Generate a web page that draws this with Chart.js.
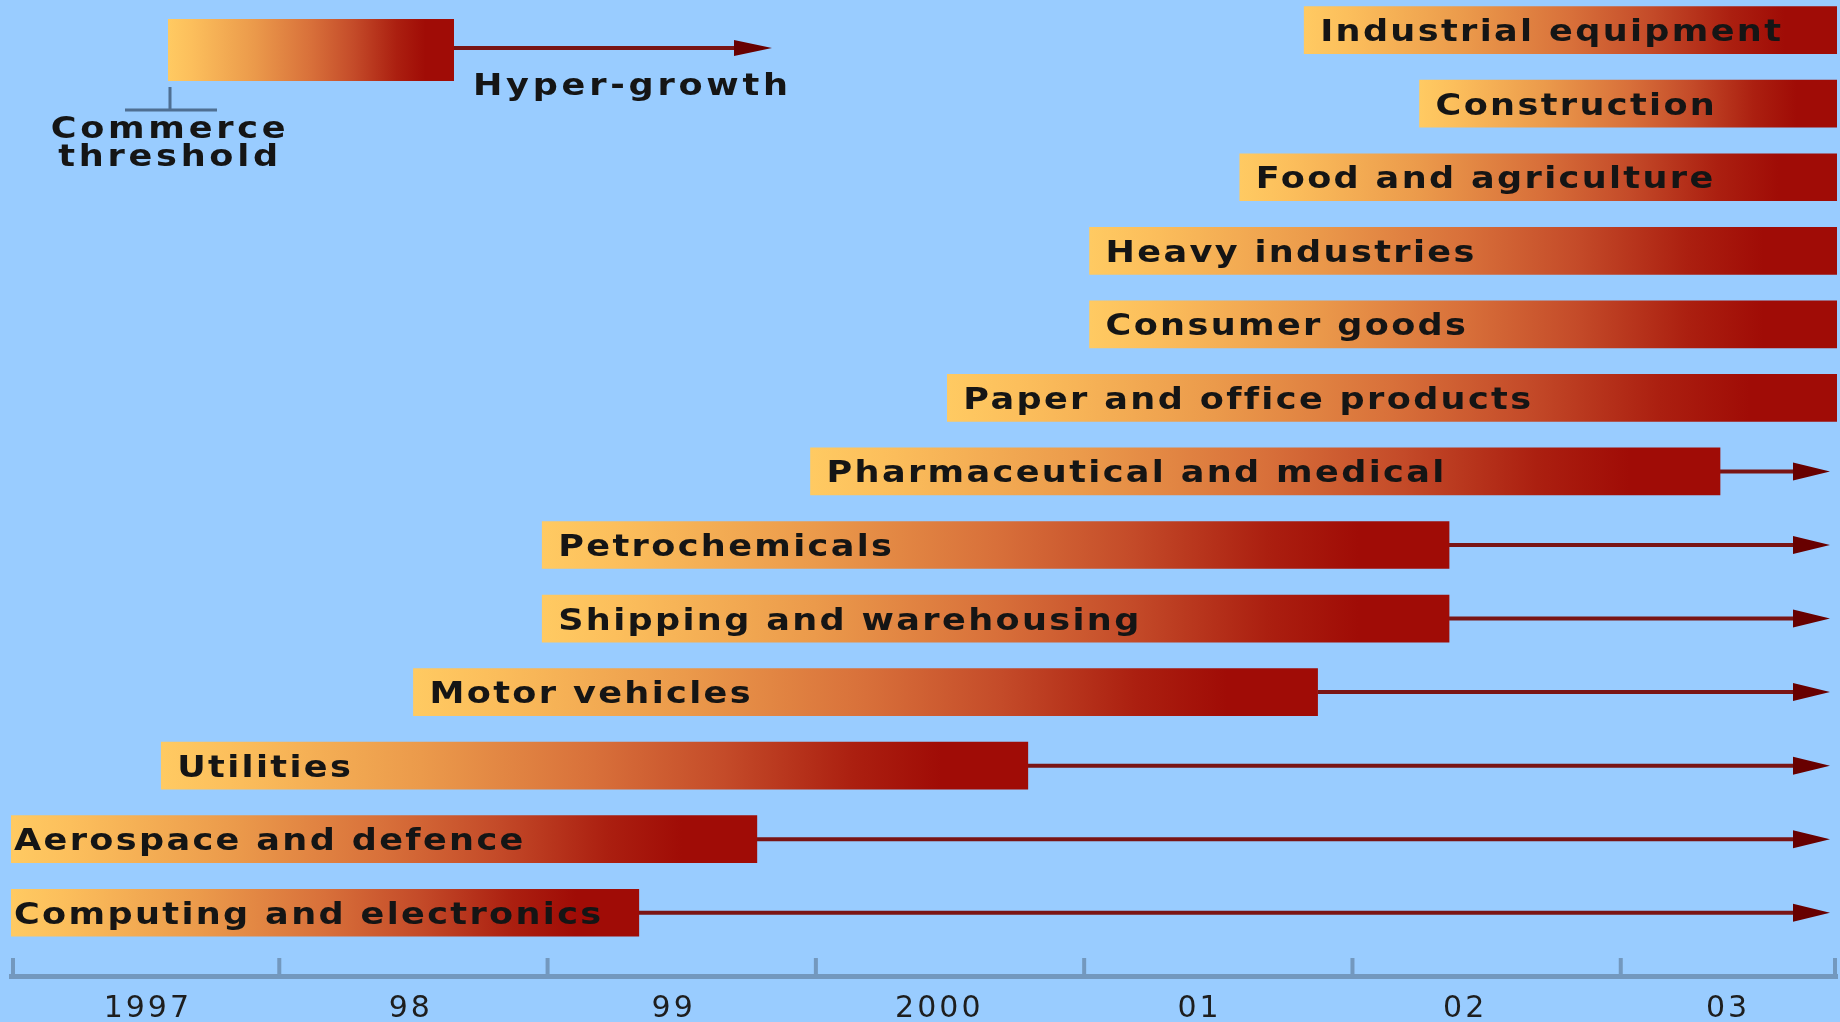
<!DOCTYPE html>
<html>
<head>
<meta charset="utf-8">
<script src="https://cdn.jsdelivr.net/npm/chart.js@4"></script>
<style>
  html, body { margin: 0; padding: 0; background: #99ccff; }
  #wrap { width: 1840px; height: 1022px; position: relative; }
</style>
</head>
<body>
<div id="wrap"><canvas id="sectorChart"></canvas></div>
<script>
// sectors, listed top to bottom
const sectors = [
  'Industrial equipment',
  'Construction',
  'Food and agriculture',
  'Heavy industries',
  'Consumer goods',
  'Paper and office products',
  'Pharmaceutical and medical',
  'Petrochemicals',
  'Shipping and warehousing',
  'Motor vehicles',
  'Utilities',
  'Aerospace and defence',
  'Computing and electronics'
]
// commerce threshold (bar start)
const thresholdYear = [2001.82, 2002.25, 2001.58, 2001.02, 2001.02, 2000.49, 1999.98, 1998.98, 1998.98, 1998.50, 1997.56, 1997.0, 1997.0]
// hyper-growth (bar end)
const hyperYear = [2003.81, 2003.81, 2003.81, 2003.81, 2003.81, 2003.81, 2003.37, 2002.36, 2002.36, 2001.87, 2000.79, 1999.78, 1999.34]
// arrow carries on to here, null = no arrow
const arrowYear = [null, null, null, null, null, null, 2003.78, 2003.78, 2003.78, 2003.78, 2003.78, 2003.78, 2003.78]

// year boundaries (tick marks) and where the year labels sit
const years = [1997, 1998, 1999, 2000, 2001, 2002, 2003]
const yearLabelAt = [1997.51, 1998.49, 1999.47, 2000.46, 2001.43, 2002.42, 2003.40]
const yearLabels = ['1997', '98', '99', '2000', '01', '02', '03']

const labelFont = 'bold 30px "DejaVu Sans"'
const stretch = 1.17
const arrowColor = '#7a1414'
const headColor = '#680000'
const axisColor = '#7398be'

function barGradient(ctx, x0, x1) {
  const g = ctx.createLinearGradient(x0, 0, x1, 0)
  g.addColorStop(0, '#ffca62')
  g.addColorStop(0.08, '#fcbf5c')
  g.addColorStop(0.3, '#eb9a4b')
  g.addColorStop(0.5, '#d8703a')
  g.addColorStop(0.65, '#c44b29')
  g.addColorStop(0.8, '#ab1f10')
  g.addColorStop(0.9, '#a00c06')
  g.addColorStop(1, '#a00c06')
  return g
}

function arrowHead(ctx, xTip, y, len, half) {
  ctx.beginPath()
  ctx.moveTo(xTip, y)
  ctx.lineTo(xTip - len, y - half)
  ctx.lineTo(xTip - len, y + half)
  ctx.closePath()
  ctx.fill()
}

// wide, tracked lettering like the original
function spacedText(ctx, text, x, y, align) {
  const w = ctx.measureText(text).width * stretch
  if (align === 'center') x = x - w / 2
  ctx.save()
  ctx.translate(x, y)
  ctx.scale(stretch, 1)
  ctx.textAlign = 'left'
  ctx.fillText(text, 0, 0)
  ctx.restore()
}

// year tick marks, arrows past bar ends, labels inside the bars, key
const barDecor = {
  id: 'barDecor',
  beforeDraw(chart) {
    chart.ctx.letterSpacing = '3px'
  },
  beforeDatasetsDraw(chart) {
    const ctx = chart.ctx
    const xs = chart.scales.x
    const meta = chart.getDatasetMeta(0)
    ctx.save()
    ctx.strokeStyle = axisColor
    ctx.lineWidth = 4
    ctx.beginPath()
    years.forEach(v => {
      const px = Math.max(xs.getPixelForValue(v), xs.left + 2)
      ctx.moveTo(px, xs.top - 18)
      ctx.lineTo(px, xs.top)
    })
    ctx.moveTo(xs.right - 2, xs.top - 18)
    ctx.lineTo(xs.right - 2, xs.top)
    ctx.stroke()

    meta.data.forEach((bar, i) => {
      if (arrowYear[i] == null) return
      const xEnd = xs.getPixelForValue(arrowYear[i])
      ctx.strokeStyle = arrowColor
      ctx.lineWidth = 4
      ctx.beginPath()
      ctx.moveTo(bar.x, bar.y)
      ctx.lineTo(xEnd - 20, bar.y)
      ctx.stroke()
      ctx.fillStyle = headColor
      arrowHead(ctx, xEnd, bar.y, 37, 9)
    })
    ctx.restore()
  },
  afterDatasetsDraw(chart) {
    const ctx = chart.ctx
    const area = chart.chartArea
    const meta = chart.getDatasetMeta(0)
    ctx.save()
    ctx.font = labelFont
    ctx.letterSpacing = '2px'
    ctx.fillStyle = '#151515'
    ctx.textBaseline = 'alphabetic'
    meta.data.forEach((bar, i) => {
      const left = Math.min(bar.base, bar.x)
      const pad = left <= area.left + 2 ? 3 : 16
      spacedText(ctx, sectors[i], left + pad, bar.y + 11, 'left')
    })
    ctx.restore()
  },
  afterDraw(chart) {
    const ctx = chart.ctx
    ctx.save()
    // key: commerce threshold -> hyper-growth
    const kx0 = 168, kx1 = 454, ky0 = 19, ky1 = 81
    ctx.fillStyle = barGradient(ctx, kx0, kx1)
    ctx.fillRect(kx0, ky0, kx1 - kx0, ky1 - ky0)
    ctx.strokeStyle = arrowColor
    ctx.lineWidth = 4
    ctx.beginPath()
    ctx.moveTo(kx1, 48)
    ctx.lineTo(750, 48)
    ctx.stroke()
    ctx.fillStyle = headColor
    arrowHead(ctx, 772, 48, 38, 8)

    ctx.strokeStyle = '#4f6f92'
    ctx.lineWidth = 3
    ctx.beginPath()
    ctx.moveTo(kx0 + 2, 87)
    ctx.lineTo(kx0 + 2, 110)
    ctx.moveTo(125, 110)
    ctx.lineTo(217, 110)
    ctx.stroke()

    ctx.font = labelFont
    ctx.letterSpacing = '3.2px'
    ctx.fillStyle = '#151515'
    ctx.textBaseline = 'alphabetic'
    spacedText(ctx, 'Hyper-growth', 473, 95, 'left')
    spacedText(ctx, 'Commerce', 170, 138, 'center')
    spacedText(ctx, 'threshold', 170, 166, 'center')
    ctx.restore()
  }
}

const data = {
  datasets: [{
    label: 'Commerce threshold to hyper-growth',
    data: sectors.map((s, i) => ({ x: [thresholdYear[i], hyperYear[i]], y: i })),
    backgroundColor: (c) => {
      const area = c.chart.chartArea
      if (!area || !c.raw) return '#d8703a'
      const xs = c.chart.scales.x
      return barGradient(c.chart.ctx, xs.getPixelForValue(c.raw.x[0]), xs.getPixelForValue(c.raw.x[1]))
    },
    borderWidth: 0,
    borderSkipped: false,
    barThickness: 47
  }]
}

const config = {
  type: 'bar',
  data: data,
  options: {
    indexAxis: 'y',
    responsive: true,
    maintainAspectRatio: false,
    animation: false,
    layout: { padding: { left: 11, right: 3, top: 0, bottom: 0 } },
    plugins: {
      legend: { display: false },
      tooltip: { enabled: false }
    },
    scales: {
      x: {
        type: 'linear',
        min: years[0],
        max: 2003.806,
        afterBuildTicks: (scale) => {
          scale.ticks = yearLabelAt.map(v => ({ value: v }))
        },
        afterFit: (scale) => { scale.height = 46 },
        grid: {
          drawOnChartArea: false,
          drawTicks: false
        },
        border: { display: true, color: axisColor, width: 5 },
        ticks: {
          autoSkip: false,
          maxRotation: 0,
          padding: 15,
          color: '#1e1e1e',
          font: { family: 'DejaVu Sans', size: 30 },
          callback: (v, i) => yearLabels[i]
        }
      },
      y: {
        type: 'linear',
        display: false,
        reverse: true,
        offset: false,
        grid: { offset: false },
        min: -0.41,
        max: 12.86
      }
    }
  },
  plugins: [barDecor]
}

const sectorChart = new Chart(document.querySelector('#sectorChart'), config)
</script>
</body>
</html>
